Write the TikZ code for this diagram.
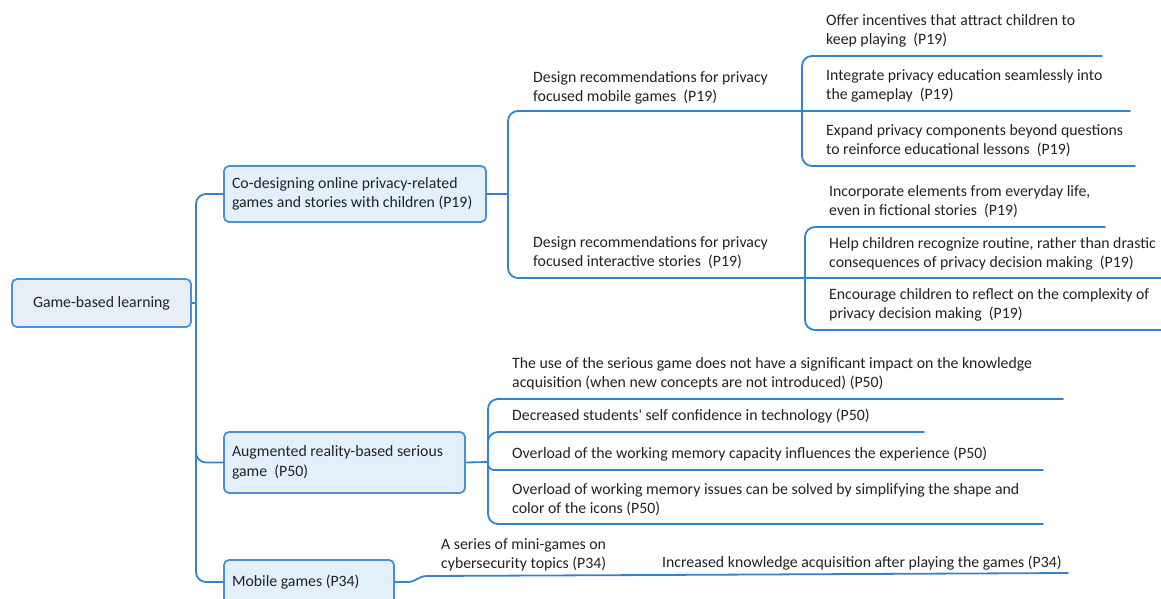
\documentclass[tikz,border=0pt]{standalone}
\usepackage{fontspec}
\setmainfont{Carlito}
\definecolor{edgeblue}{HTML}{3583CA}
\definecolor{boxline}{HTML}{4A90D4}
\definecolor{rootfill}{HTML}{E8EEF6}
\definecolor{topicfill}{HTML}{E3F0FB}
\definecolor{inktext}{HTML}{222222}
\tikzset{
  basefont/.style={font=\fontsize{15.8}{19.5}\selectfont, text=inktext},
  topic/.style={basefont, draw=boxline, line width=1.8pt, rounded corners=5pt,
    inner xsep=8pt, inner ysep=0pt, align=flush left},
  roottopic/.style={topic, fill=rootfill, align=center},
  subtopic/.style={topic, fill=topicfill},
  leaf/.style={basefont, anchor=south west, inner sep=0pt, text depth=0pt, align=left},
  edge/.style={draw=edgeblue, line width=1.8pt, rounded corners=10pt, line cap=round},
  tightedge/.style={edge, rounded corners=6pt}
}
\begin{document}
\begin{tikzpicture}[x=1pt,y=-1pt]
\useasboundingbox (0,0) rectangle (1161,598);
\clip (0,0) rectangle (1161,598);

% main topics
\node[roottopic, minimum width=179pt, minimum height=48pt] (root) at (101.5,303) {Game-based learning};
\node[subtopic, minimum width=262pt, minimum height=56pt, text width=246pt] (codesign) at (355,194)
  {\mbox{Co-designing online privacy-related}\\\mbox{games and stories with children (P19)}};
\node[subtopic, minimum width=241pt, minimum height=61pt, text width=225pt] (argame) at (344.5,462.5)
  {\mbox{Augmented reality-based serious}\\\mbox{game~ (P50)}};
\node[subtopic, minimum width=170pt, minimum height=44pt, text width=154pt] (mobile) at (309,582)
  {\mbox{Mobile games (P34)}};

% junctions
\coordinate (jroot) at (196,303);
\coordinate (jco) at (508,194);
\coordinate (jgames) at (802,111);
\coordinate (jstories) at (805,278);
\coordinate (jar) at (488,462);

% underline ends
\coordinate (offerEnd) at (1102,56);
\coordinate (integrateEnd) at (1130,111);
\coordinate (expandEnd) at (1135,166);
\coordinate (incorpEnd) at (1105,227);
\coordinate (helpEnd) at (1175,278);
\coordinate (encourEnd) at (1175,330);
\coordinate (useEnd) at (1063,399);
\coordinate (decrEnd) at (924,432);
\coordinate (overAEnd) at (1043,470);
\coordinate (overBEnd) at (1043,524);
\coordinate (miniEnd) at (652,575);
\coordinate (incrEnd) at (1068,573);

% labels
\node[leaf] (designGames) at (533,102) {Design recommendations for privacy\\focused mobile games~ (P19)};
\node[leaf] (offer) at (826,45) {Offer incentives that attract children to\\keep playing~ (P19)};
\node[leaf] (integrate) at (826,100) {Integrate privacy education seamlessly into\\the gameplay~ (P19)};
\node[leaf] (expand) at (826,155) {Expand privacy components beyond questions\\to reinforce educational lessons~ (P19)};
\node[leaf] (designStories) at (533,267) {Design recommendations for privacy\\focused interactive stories~ (P19)};
\node[leaf] (incorp) at (829,216) {Incorporate elements from everyday life,\\even in fictional stories~ (P19)};
\node[leaf] (help) at (829,268) {Help children recognize routine, rather than drastic\\consequences of privacy decision making~ (P19)};
\node[leaf] (encour) at (829,319) {Encourage children to reflect on the complexity of\\privacy decision making~ (P19)};
\node[leaf] (use) at (512,388) {The use of the serious game does not have a significant impact on the knowledge\\acquisition (when new concepts are not introduced) (P50)};
\node[leaf] (decr) at (512,421) {Decreased students\textquotesingle\ self confidence in technology (P50)};
\node[leaf] (overA) at (512,459) {Overload of the working memory capacity influences the experience (P50)};
\node[leaf] (overB) at (512,514) {Overload of working memory issues can be solved by simplifying the shape and\\color of the icons (P50)};
\node[leaf] (mini) at (441,569) {A series of mini-games on\\cybersecurity topics (P34)};
\node[leaf] (incr) at (662,568) {Increased knowledge acquisition after playing the games (P34)};

% root to main topics
\draw[edge] (root.east) -- (jroot);
\draw[edge] (jroot) |- (codesign.west);
\draw[edge] (jroot) |- (argame.west);
\draw[edge] (jroot) |- (mobile.west);

% co-design branch
\draw[edge] (codesign.east) -- (jco);
\draw[edge] (jco) |- (jgames);
\draw[edge] (jco) |- (jstories);
\draw[edge] (jgames) |- (offerEnd);
\draw[edge] (jgames) -- (integrateEnd);
\draw[edge] (jgames) |- (expandEnd);
\draw[edge] (jstories) |- (incorpEnd);
\draw[edge] (jstories) -- (helpEnd);
\draw[edge] (jstories) |- (encourEnd);

% augmented reality branch
\draw[edge] (argame.east) -- (jar);
\draw[edge] (jar) |- (useEnd);
\draw[edge] (jar) |- (decrEnd);
\draw[tightedge] (jar) |- (overAEnd);
\draw[edge] (jar) |- (overBEnd);

% mobile games branch
\draw[edge, rounded corners=0pt] (mobile.east) -- ++(14,0)
  .. controls +(6,0) and +(-8,0) .. ++(18,-6) -- (miniEnd);
\draw[edge, rounded corners=0pt] (miniEnd) -- (incrEnd);
\end{tikzpicture}
\end{document}
